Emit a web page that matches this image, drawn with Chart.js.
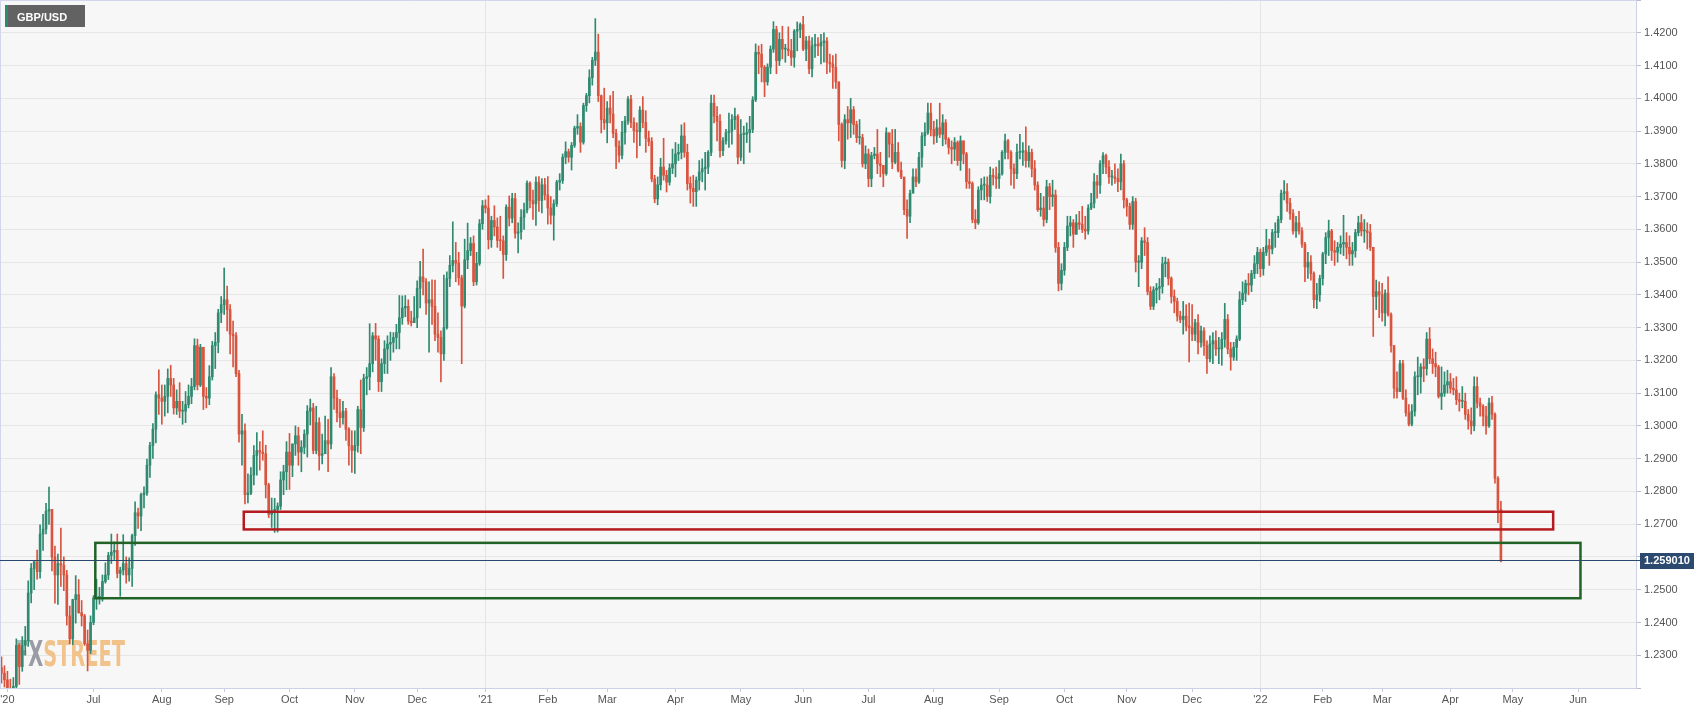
<!DOCTYPE html>
<html>
<head>
<meta charset="utf-8">
<title>GBP/USD</title>
<script src="https://cdn.jsdelivr.net/npm/chart.js@4.4.1/dist/chart.umd.min.js"></script>
<style>
  html, body { margin: 0; padding: 0; background: #fff; }
  #wrap { width: 1707px; height: 712px; position: relative; }
</style>
</head>
<body>
<div id="wrap"><canvas id="chart"></canvas></div>
<script>
// GBP/USD daily candles, 19 May 2020 .. 26 Apr 2022 (one row per month)
const FIRST_OPEN = 1.2262;

const closes = [
  1.2245, 1.2225, 1.2197, 1.2175, 1.2205, 1.2330, 1.2265, 1.2330, 1.2345,
  1.2490, 1.2565, 1.2585, 1.2555, 1.2670, 1.2685, 1.2740, 1.2745, 1.2600, 1.2545, 1.2580, 1.2575, 1.2545, 1.2420, 1.2350, 1.2470, 1.2485, 1.2430, 1.2420, 1.2335, 1.2315, 1.2400,
  1.2475, 1.2475, 1.2480, 1.2525, 1.2545, 1.2605, 1.2615, 1.2620, 1.2550, 1.2560, 1.2580, 1.2545, 1.2565, 1.2665, 1.2735, 1.2725, 1.2790, 1.2795, 1.2880, 1.2940, 1.2990, 1.3095, 1.3085,
  1.3075, 1.3090, 1.3145, 1.3125, 1.3055, 1.3075, 1.3045, 1.3045, 1.3065, 1.3090, 1.3120, 1.3245, 1.3125, 1.3240, 1.3090, 1.3085, 1.3150, 1.3245, 1.3255, 1.3345, 1.3370,
  1.3385, 1.3355, 1.3280, 1.3275, 1.3160, 1.2975, 1.2985, 1.2790, 1.2795, 1.2850, 1.2910, 1.2925, 1.2920, 1.2915, 1.2820, 1.2730, 1.2740, 1.2745, 1.2755, 1.2835, 1.2860, 1.2920,
  1.2880, 1.2945, 1.2970, 1.2920, 1.2935, 1.2975, 1.3045, 1.3055, 1.2925, 1.3010, 1.2910, 1.2915, 1.2955, 1.2945, 1.3150, 1.3085, 1.3040, 1.3025, 1.3045, 1.2990, 1.2940, 1.2925,
  1.2940, 1.3050, 1.2995, 1.3145, 1.3150, 1.3190, 1.3275, 1.3265, 1.3135, 1.3190, 1.3235, 1.3250, 1.3255, 1.3270, 1.3285, 1.3330, 1.3360, 1.3365, 1.3320, 1.3315, 1.3330,
  1.3420, 1.3455, 1.3440, 1.3375, 1.3385, 1.3365, 1.3280, 1.3270, 1.3220, 1.3300, 1.3450, 1.3490, 1.3505, 1.3497, 1.3452, 1.3366, 1.3507, 1.3535, 1.3557, 1.3440, 1.3496, 1.3617, 1.3672,
  1.3665, 1.3568, 1.3627, 1.3607, 1.3566, 1.3565, 1.3523, 1.3668, 1.3634, 1.3694, 1.3588, 1.3592, 1.3637, 1.3659, 1.3741, 1.3688, 1.3678, 1.3744, 1.3688, 1.3736, 1.3705,
  1.3665, 1.3643, 1.3678, 1.3744, 1.3749, 1.3820, 1.3837, 1.3820, 1.3856, 1.3909, 1.3914, 1.3866, 1.3978, 1.4008, 1.4063, 1.4116, 1.4141, 1.4008, 1.3935, 1.3925,
  1.3970, 1.3952, 1.3893, 1.3853, 1.3826, 1.3896, 1.3931, 1.3997, 1.3926, 1.3901, 1.3898, 1.3964, 1.3926, 1.3878, 1.3868, 1.3754, 1.3693, 1.3736, 1.3790, 1.3765, 1.3744, 1.3787, 1.3800,
  1.3830, 1.3835, 1.3885, 1.3835, 1.3740, 1.3725, 1.3715, 1.3750, 1.3775, 1.3785, 1.3790, 1.3835, 1.3985, 1.3945, 1.3930, 1.3840, 1.3870, 1.3895, 1.3900, 1.3935, 1.3945, 1.3820,
  1.3890, 1.3890, 1.3895, 1.3905, 1.3995, 1.4140, 1.4135, 1.4095, 1.4050, 1.4095, 1.4150, 1.4210, 1.4115, 1.4180, 1.4150, 1.4150, 1.4145, 1.4125, 1.4205, 1.4210, 1.4225,
  1.4150, 1.4175, 1.4090, 1.4160, 1.4165, 1.4160, 1.4170, 1.4175, 1.4110, 1.4105, 1.4095, 1.4050, 1.3920, 1.3810, 1.3935, 1.3925, 1.3965, 1.3920, 1.3880, 1.3880, 1.3800, 1.3830,
  1.3755, 1.3825, 1.3830, 1.3800, 1.3795, 1.3770, 1.3895, 1.3860, 1.3805, 1.3835, 1.3780, 1.3760, 1.3660, 1.3640, 1.3710, 1.3760, 1.3745, 1.3820, 1.3885, 1.3895, 1.3955, 1.3905,
  1.3885, 1.3910, 1.3890, 1.3925, 1.3875, 1.3850, 1.3845, 1.3865, 1.3810, 1.3870, 1.3830, 1.3745, 1.3740, 1.3630, 1.3620, 1.3720, 1.3735, 1.3735, 1.3700, 1.3765, 1.3760, 1.3755,
  1.3770, 1.3835, 1.3870, 1.3835, 1.3785, 1.3770, 1.3835, 1.3835, 1.3840, 1.3810, 1.3835, 1.3785, 1.3735, 1.3660, 1.3665, 1.3630, 1.3730, 1.3700, 1.3705, 1.3545, 1.3435, 1.3475,
  1.3545, 1.3610, 1.3620, 1.3585, 1.3620, 1.3615, 1.3600, 1.3595, 1.3665, 1.3680, 1.3745, 1.3735, 1.3800, 1.3825, 1.3790, 1.3760, 1.3760, 1.3755, 1.3745, 1.3800, 1.3690,
  1.3670, 1.3615, 1.3685, 1.3500, 1.3500, 1.3565, 1.3560, 1.3410, 1.3365, 1.3415, 1.3420, 1.3425, 1.3495, 1.3500, 1.3450, 1.3395, 1.3380, 1.3335, 1.3325, 1.3335, 1.3305, 1.3300,
  1.3280, 1.3315, 1.3255, 1.3290, 1.3245, 1.3205, 1.3250, 1.3260, 1.3235, 1.3235, 1.3265, 1.3325, 1.3235, 1.3210, 1.3240, 1.3265, 1.3385, 1.3405, 1.3435, 1.3430, 1.3465, 1.3495, 1.3530,
  1.3480, 1.3530, 1.3550, 1.3540, 1.3590, 1.3590, 1.3630, 1.3710, 1.3715, 1.3680, 1.3648, 1.3595, 1.3620, 1.3595, 1.3555, 1.3485, 1.3500, 1.3465, 1.3385, 1.3400, 1.3450,
  1.3525, 1.3575, 1.3595, 1.3535, 1.3530, 1.3545, 1.3555, 1.3560, 1.3545, 1.3525, 1.3535, 1.3590, 1.3620, 1.3595, 1.3595, 1.3590, 1.3545, 1.3395, 1.3410, 1.3400,
  1.3345, 1.3405, 1.3340, 1.3245, 1.3115, 1.3105, 1.3190, 1.3085, 1.3040, 1.3005, 1.3045, 1.3150, 1.3150, 1.3180, 1.3175, 1.3265, 1.3205, 1.3190, 1.3180, 1.3090, 1.3100, 1.3125, 1.3135,
  1.3115, 1.3110, 1.3080, 1.3075, 1.3075, 1.3035, 1.3015, 1.3000, 1.3120, 1.3070, 1.3060, 1.3030, 1.3000, 1.3070, 1.3035, 1.2840, 1.2745, 1.25901
];

const highs = [
  1.2295, 1.2268, 1.2251, 1.2227, 1.2232, 1.2350, 1.2336, 1.2357, 1.2388,
  1.2527, 1.2580, 1.2588, 1.2621, 1.2698, 1.2730, 1.2764, 1.2813, 1.2745, 1.2633, 1.2609, 1.2688, 1.2600, 1.2559, 1.2450, 1.2471, 1.2543, 1.2531, 1.2467, 1.2425, 1.2377, 1.2420,
  1.2482, 1.2532, 1.2507, 1.2545, 1.2582, 1.2614, 1.2670, 1.2646, 1.2670, 1.2569, 1.2668, 1.2600, 1.2597, 1.2670, 1.2768, 1.2749, 1.2795, 1.2814, 1.2899, 1.2950, 1.3007, 1.3104, 1.3171,
  1.3125, 1.3125, 1.3174, 1.3185, 1.3145, 1.3110, 1.3132, 1.3075, 1.3105, 1.3125, 1.3145, 1.3266, 1.3265, 1.3249, 1.3240, 1.3117, 1.3184, 1.3258, 1.3285, 1.3356, 1.3395,
  1.3482, 1.3427, 1.3370, 1.3320, 1.3285, 1.3170, 1.3035, 1.3006, 1.2854, 1.2873, 1.2940, 1.2980, 1.2952, 1.2985, 1.2941, 1.2825, 1.2780, 1.2779, 1.2765, 1.2860, 1.2880, 1.2952,
  1.2977, 1.2945, 1.3000, 1.2996, 1.2955, 1.2988, 1.3062, 1.3082, 1.3069, 1.3060, 1.3025, 1.2975, 1.3030, 1.3020, 1.3178, 1.3160, 1.3109, 1.3081, 1.3075, 1.3054, 1.2995, 1.2985,
  1.2985, 1.3060, 1.3140, 1.3158, 1.3178, 1.3312, 1.3285, 1.3313, 1.3275, 1.3205, 1.3260, 1.3275, 1.3286, 1.3285, 1.3310, 1.3398, 1.3397, 1.3398, 1.3385, 1.3350, 1.3395,
  1.3443, 1.3502, 1.3540, 1.3450, 1.3440, 1.3446, 1.3445, 1.3345, 1.3290, 1.3460, 1.3470, 1.3520, 1.3623, 1.3560, 1.3530, 1.3460, 1.3570, 1.3619, 1.3575, 1.3580, 1.3530, 1.3630, 1.3688,
  1.3690, 1.3703, 1.3640, 1.3672, 1.3635, 1.3640, 1.3580, 1.3675, 1.3702, 1.3710, 1.3710, 1.3620, 1.3660, 1.3680, 1.3748, 1.3745, 1.3720, 1.3760, 1.3761, 1.3755, 1.3756,
  1.3761, 1.3700, 1.3690, 1.3750, 1.3770, 1.3830, 1.3867, 1.3845, 1.3865, 1.3915, 1.3950, 1.3925, 1.3985, 1.4015, 1.4087, 1.4125, 1.4243, 1.4196, 1.4010, 1.4031,
  1.3990, 1.4008, 1.4021, 1.3905, 1.3870, 1.3930, 1.3945, 1.4005, 1.4009, 1.3940, 1.3925, 1.3975, 1.4005, 1.3962, 1.3900, 1.3880, 1.3765, 1.3760, 1.3817, 1.3878, 1.3780, 1.3800, 1.3845,
  1.3865, 1.3860, 1.3919, 1.3925, 1.3860, 1.3760, 1.3765, 1.3760, 1.3810, 1.3815, 1.3835, 1.3840, 1.4010, 1.4010, 1.3975, 1.3950, 1.3880, 1.3905, 1.3955, 1.3950, 1.3970, 1.3950,
  1.3935, 1.3915, 1.3925, 1.3945, 1.4005, 1.4166, 1.4160, 1.4165, 1.4100, 1.4105, 1.4160, 1.4234, 1.4220, 1.4200, 1.4220, 1.4165, 1.4218, 1.4180, 1.4210, 1.4233, 1.4230,
  1.4250, 1.4188, 1.4190, 1.4185, 1.4195, 1.4185, 1.4195, 1.4200, 1.4185, 1.4135, 1.4130, 1.4135, 1.4050, 1.3925, 1.3950, 1.3975, 1.4000, 1.3975, 1.3930, 1.3935, 1.3890, 1.3855,
  1.3845, 1.3835, 1.3850, 1.3905, 1.3835, 1.3795, 1.3910, 1.3890, 1.3905, 1.3905, 1.3865, 1.3805, 1.3755, 1.3690, 1.3720, 1.3785, 1.3785, 1.3835, 1.3895, 1.3925, 1.3985, 1.3985,
  1.3930, 1.3935, 1.3985, 1.3950, 1.3935, 1.3880, 1.3870, 1.3880, 1.3870, 1.3885, 1.3870, 1.3835, 1.3785, 1.3745, 1.3660, 1.3730, 1.3755, 1.3760, 1.3760, 1.3790, 1.3785, 1.3790,
  1.3810, 1.3840, 1.3891, 1.3875, 1.3840, 1.3800, 1.3860, 1.3890, 1.3865, 1.3913, 1.3855, 1.3845, 1.3810, 1.3745, 1.3710, 1.3700, 1.3750, 1.3740, 1.3750, 1.3720, 1.3560, 1.3495,
  1.3560, 1.3640, 1.3640, 1.3630, 1.3645, 1.3655, 1.3670, 1.3640, 1.3675, 1.3710, 1.3770, 1.3765, 1.3810, 1.3834, 1.3830, 1.3810, 1.3780, 1.3800, 1.3785, 1.3830, 1.3810,
  1.3695, 1.3680, 1.3700, 1.3695, 1.3520, 1.3575, 1.3605, 1.3575, 1.3425, 1.3425, 1.3435, 1.3450, 1.3515, 1.3515, 1.3510, 1.3455, 1.3415, 1.3390, 1.3350, 1.3380, 1.3370, 1.3375,
  1.3370, 1.3325, 1.3340, 1.3305, 1.3300, 1.3260, 1.3275, 1.3285, 1.3290, 1.3270, 1.3285, 1.3374, 1.3340, 1.3255, 1.3255, 1.3275, 1.3410, 1.3440, 1.3445, 1.3465, 1.3475, 1.3520, 1.3545,
  1.3540, 1.3545, 1.3600, 1.3570, 1.3600, 1.3620, 1.3640, 1.3720, 1.3749, 1.3740, 1.3695, 1.3660, 1.3640, 1.3655, 1.3605, 1.3560, 1.3530, 1.3520, 1.3470, 1.3435, 1.3460,
  1.3530, 1.3590, 1.3628, 1.3600, 1.3565, 1.3560, 1.3580, 1.3643, 1.3590, 1.3580, 1.3560, 1.3600, 1.3640, 1.3645, 1.3630, 1.3620, 1.3615, 1.3545, 1.3445, 1.3440,
  1.3435, 1.3415, 1.3455, 1.3345, 1.3245, 1.3165, 1.3200, 1.3200, 1.3110, 1.3065, 1.3065, 1.3165, 1.3210, 1.3190, 1.3205, 1.3285, 1.3300, 1.3235, 1.3225, 1.3185, 1.3180, 1.3165, 1.3170,
  1.3160, 1.3145, 1.3150, 1.3100, 1.3120, 1.3100, 1.3050, 1.3055, 1.3150, 1.3149, 1.3085, 1.3065, 1.3060, 1.3085, 1.3090, 1.3040, 1.2845, 1.2770
];

const lows = [
  1.2215, 1.2203, 1.2183, 1.2162, 1.2168, 1.2197, 1.2211, 1.2251, 1.2300,
  1.2327, 1.2460, 1.2500, 1.2532, 1.2535, 1.2620, 1.2670, 1.2699, 1.2557, 1.2459, 1.2455, 1.2510, 1.2497, 1.2392, 1.2335, 1.2332, 1.2398, 1.2428, 1.2389, 1.2330, 1.2252, 1.2305,
  1.2393, 1.2440, 1.2456, 1.2465, 1.2520, 1.2531, 1.2580, 1.2592, 1.2536, 1.2480, 1.2545, 1.2520, 1.2526, 1.2510, 1.2635, 1.2687, 1.2680, 1.2750, 1.2788, 1.2843, 1.2901, 1.2948, 1.3035,
  1.3005, 1.3030, 1.3040, 1.3090, 1.3036, 1.3035, 1.3025, 1.3005, 1.3010, 1.3055, 1.3068, 1.3110, 1.3110, 1.3120, 1.3050, 1.3055, 1.3065, 1.3140, 1.3175, 1.3223, 1.3315,
  1.3340, 1.3290, 1.3220, 1.3180, 1.3150, 1.2950, 1.2880, 1.2762, 1.2765, 1.2790, 1.2820, 1.2850, 1.2865, 1.2895, 1.2780, 1.2720, 1.2690, 1.2675, 1.2676, 1.2745, 1.2790, 1.2805,
  1.2806, 1.2845, 1.2910, 1.2880, 1.2860, 1.2915, 1.2905, 1.3003, 1.2915, 1.2915, 1.2865, 1.2884, 1.2915, 1.2860, 1.2930, 1.3050, 1.3012, 1.2995, 1.3005, 1.2956, 1.2880, 1.2858,
  1.2855, 1.2920, 1.2915, 1.2983, 1.3095, 1.3110, 1.3165, 1.3200, 1.3105, 1.3105, 1.3160, 1.3160, 1.3200, 1.3225, 1.3235, 1.3235, 1.3310, 1.3333, 1.3310, 1.3305, 1.3315,
  1.3300, 1.3360, 1.3400, 1.3340, 1.3225, 1.3310, 1.3260, 1.3225, 1.3134, 1.3200, 1.3295, 1.3425, 1.3470, 1.3440, 1.3430, 1.3190, 1.3360, 1.3480, 1.3520, 1.3428, 1.3430, 1.3490, 1.3600,
  1.3650, 1.3540, 1.3545, 1.3580, 1.3545, 1.3535, 1.3450, 1.3505, 1.3610, 1.3620, 1.3573, 1.3528, 1.3570, 1.3600, 1.3650, 1.3665, 1.3630, 1.3612, 1.3655, 1.3650, 1.3690,
  1.3616, 1.3616, 1.3567, 1.3670, 1.3720, 1.3740, 1.3800, 1.3805, 1.3781, 1.3850, 1.3890, 1.3835, 1.3860, 1.3960, 1.3986, 1.4040, 1.4100, 1.3990, 1.3894, 1.3905,
  1.3864, 1.3925, 1.3880, 1.3785, 1.3805, 1.3815, 1.3860, 1.3920, 1.3910, 1.3865, 1.3818, 1.3855, 1.3910, 1.3835, 1.3855, 1.3745, 1.3681, 1.3675, 1.3720, 1.3750, 1.3714, 1.3735, 1.3770,
  1.3760, 1.3810, 1.3815, 1.3820, 1.3720, 1.3680, 1.3670, 1.3670, 1.3720, 1.3745, 1.3720, 1.3770, 1.3825, 1.3925, 1.3870, 1.3820, 1.3825, 1.3860, 1.3850, 1.3860, 1.3905, 1.3800,
  1.3810, 1.3800, 1.3865, 1.3835, 1.3895, 1.3990, 1.4075, 1.4050, 1.4005, 1.4040, 1.4075, 1.4140, 1.4075, 1.4100, 1.4120, 1.4110, 1.4130, 1.4100, 1.4095, 1.4145, 1.4185,
  1.4145, 1.4115, 1.4075, 1.4065, 1.4125, 1.4130, 1.4105, 1.4110, 1.4075, 1.4080, 1.4030, 1.4030, 1.3870, 1.3790, 1.3785, 1.3875, 1.3880, 1.3890, 1.3865, 1.3860, 1.3790, 1.3785,
  1.3730, 1.3730, 1.3815, 1.3770, 1.3760, 1.3730, 1.3765, 1.3820, 1.3785, 1.3800, 1.3775, 1.3755, 1.3645, 1.3572, 1.3620, 1.3715, 1.3730, 1.3740, 1.3790, 1.3855, 1.3890, 1.3885,
  1.3860, 1.3865, 1.3880, 1.3855, 1.3860, 1.3830, 1.3800, 1.3810, 1.3795, 1.3780, 1.3800, 1.3725, 1.3725, 1.3620, 1.3602, 1.3615, 1.3690, 1.3690, 1.3685, 1.3680, 1.3735, 1.3725,
  1.3725, 1.3765, 1.3815, 1.3815, 1.3735, 1.3725, 1.3755, 1.3815, 1.3795, 1.3790, 1.3790, 1.3760, 1.3720, 1.3655, 1.3640, 1.3610, 1.3620, 1.3660, 1.3670, 1.3530, 1.3412, 1.3415,
  1.3460, 1.3535, 1.3580, 1.3545, 1.3585, 1.3600, 1.3590, 1.3570, 1.3585, 1.3660, 1.3665, 1.3695, 1.3710, 1.3770, 1.3770, 1.3740, 1.3735, 1.3740, 1.3715, 1.3720, 1.3665,
  1.3640, 1.3600, 1.3600, 1.3470, 1.3425, 1.3480, 1.3520, 1.3400, 1.3355, 1.3355, 1.3375, 1.3385, 1.3405, 1.3455, 1.3430, 1.3375, 1.3345, 1.3320, 1.3315, 1.3280, 1.3290, 1.3195,
  1.3260, 1.3260, 1.3220, 1.3240, 1.3215, 1.3160, 1.3195, 1.3190, 1.3215, 1.3190, 1.3185, 1.3240, 1.3220, 1.3170, 1.3200, 1.3200, 1.3260, 1.3370, 1.3380, 1.3400, 1.3410, 1.3450, 1.3465,
  1.3455, 1.3460, 1.3520, 1.3490, 1.3525, 1.3545, 1.3575, 1.3620, 1.3690, 1.3655, 1.3630, 1.3585, 1.3575, 1.3585, 1.3545, 1.3440, 1.3450, 1.3445, 1.3360, 1.3358, 1.3380,
  1.3430, 1.3495, 1.3520, 1.3505, 1.3490, 1.3500, 1.3525, 1.3520, 1.3510, 1.3490, 1.3490, 1.3515, 1.3580, 1.3580, 1.3560, 1.3540, 1.3535, 1.3273, 1.3355, 1.3330,
  1.3320, 1.3305, 1.3335, 1.3225, 1.3085, 1.3085, 1.3105, 1.3080, 1.3030, 1.3000, 1.3000, 1.3030, 1.3095, 1.3100, 1.3135, 1.3155, 1.3190, 1.3160, 1.3150, 1.3085, 1.3050, 1.3090, 1.3100,
  1.3100, 1.3095, 1.3065, 1.3045, 1.3055, 1.3020, 1.2990, 1.2975, 1.2985, 1.3055, 1.3030, 1.3000, 1.2975, 1.2995, 1.3020, 1.2825, 1.2705, 1.2585
];

// drawn boxes: [first slot, last slot, lower price, upper price]
const redZone = [81.6, 522.6, 1.2684, 1.2738];
const greenZone = [31.6, 531.8, 1.2474, 1.2643];
const lastPrice = 1.25901;

const MONTHS = ['Jan', 'Feb', 'Mar', 'Apr', 'May', 'Jun', 'Jul', 'Aug', 'Sep', 'Oct', 'Nov', 'Dec'];
const FIRST_MONTH_TICK = '2020-07';
const EXTRA_TICKS = { 2: "'20" };
const EMPTY_SLOTS = 45; // blank days to the right of the last candle

// trading days (weekdays) as categories
const days = [];
for (let t = Date.UTC(2020, 4, 19); days.length < closes.length + EMPTY_SLOTS; t += 86400000) {
  const d = new Date(t);
  if (d.getUTCDay() !== 0 && d.getUTCDay() !== 6) days.push(d);
}
const labels = days.map(d => d.toISOString().slice(0, 10));

const tickText = labels.map((l, i) => {
  if (EXTRA_TICKS[i]) return EXTRA_TICKS[i];
  if (i === 0 || l.slice(0, 7) === labels[i - 1].slice(0, 7) || l.slice(0, 7) < FIRST_MONTH_TICK) return '';
  const m = days[i].getUTCMonth();
  return m === 0 ? "'" + l.slice(2, 4) : MONTHS[m];
});
const yearStart = new Set(labels.map((l, i) => (i > 0 && l.slice(0, 4) !== labels[i - 1].slice(0, 4)) ? i : -1));

const opens = closes.map((c, i) => i === 0 ? FIRST_OPEN : closes[i - 1]);

const UP = '#2f8a70';
const DOWN = '#d9543f';
const candleColor = ctx => closes[ctx.dataIndex] >= opens[ctx.dataIndex] ? UP : DOWN;
const FONT = "'Liberation Sans', Arial, sans-serif";

const decorations = {
  id: 'decorations',
  beforeDraw(chart) {
    const { ctx, chartArea: a } = chart;
    ctx.save();
    ctx.fillStyle = '#ffffff';
    ctx.fillRect(0, 0, chart.width, chart.height);
    ctx.fillStyle = '#f7f7f7';
    ctx.fillRect(a.left, a.top, a.right - a.left, a.bottom - a.top);
    ctx.restore();
  },
  beforeDatasetsDraw(chart) {
    const { ctx } = chart;
    // FXStreet watermark
    ctx.save();
    ctx.font = "bold 36px 'DejaVu Sans Condensed', 'DejaVu Sans', sans-serif";
    ctx.textBaseline = 'alphabetic';
    const sx = 110 / ctx.measureText('FXSTREET').width;
    ctx.translate(15, 666);
    ctx.scale(sx, 1);
    let x = 0;
    for (const [t, c] of [['F', '#b9b9c0'], ['X', '#9b9ba5'], ['STREET', '#f1c38b']]) {
      ctx.fillStyle = c;
      ctx.fillText(t, x, 0);
      x += ctx.measureText(t).width;
    }
    ctx.restore();
  },
  afterDatasetsDraw(chart) {
    const { ctx, chartArea: a, scales: { x, y } } = chart;
    ctx.save();
    ctx.beginPath();
    ctx.rect(a.left, a.top, a.right - a.left, a.bottom - a.top);
    ctx.clip();
    const box = (z, color) => {
      const x0 = x.getPixelForValue(z[0]), x1 = x.getPixelForValue(z[1]);
      const y0 = y.getPixelForValue(z[3]), y1 = y.getPixelForValue(z[2]);
      ctx.strokeStyle = color;
      ctx.lineWidth = 2.5;
      ctx.strokeRect(x0, y0, x1 - x0, y1 - y0);
    };
    box(redZone, '#b51a1f');
    box(greenZone, '#216326');
    ctx.restore();
  },
  afterDraw(chart) {
    const { ctx, chartArea: a, scales: { y } } = chart;
    ctx.save();
    // plot frame (top / left)
    ctx.strokeStyle = '#d3d6ea';
    ctx.lineWidth = 1;
    ctx.beginPath();
    ctx.moveTo(0.5, a.bottom);
    ctx.lineTo(0.5, 0.5);
    ctx.lineTo(a.right, 0.5);
    ctx.stroke();
    // last price line and tag
    const py = Math.round(y.getPixelForValue(lastPrice));
    ctx.strokeStyle = '#2b4870';
    ctx.beginPath();
    ctx.moveTo(a.left, py + 0.5);
    ctx.lineTo(a.right + 4, py + 0.5);
    ctx.stroke();
    ctx.fillStyle = '#2c4a70';
    ctx.fillRect(a.right + 4, py - 7, 54, 16);
    ctx.fillStyle = '#ffffff';
    ctx.font = 'bold 11px ' + FONT;
    ctx.textBaseline = 'middle';
    ctx.fillText(lastPrice.toFixed(6), a.right + 8, py + 1);
    // symbol tag
    ctx.fillStyle = '#626262';
    ctx.fillRect(5, 5, 80, 22);
    ctx.fillStyle = '#2e8a6f';
    ctx.fillRect(5, 5, 3, 22);
    ctx.fillStyle = '#ffffff';
    ctx.textBaseline = 'alphabetic';
    ctx.fillText('GBP/USD', 17, 20.5);
    ctx.restore();
  }
};

new Chart(document.getElementById('chart'), {
  type: 'bar',
  data: {
    labels,
    datasets: [
      {
        label: 'body',
        data: closes.map((c, i) => [opens[i], c]),
        backgroundColor: candleColor,
        barThickness: 2,
        minBarLength: 1,
        grouped: false,
        order: 1
      },
      {
        label: 'wick',
        data: highs.map((h, i) => [lows[i], h]),
        backgroundColor: candleColor,
        barThickness: 1,
        grouped: false,
        order: 2
      }
    ]
  },
  options: {
    responsive: true,
    maintainAspectRatio: false,
    animation: false,
    events: [],
    layout: { padding: 0, autoPadding: false },
    plugins: { legend: { display: false }, tooltip: { enabled: false } },
    scales: {
      x: {
        type: 'category',
        offset: true,
        afterFit: s => { s.height = 24; s.paddingLeft = 0; s.paddingRight = 0; },
        border: { color: '#cdd1e6' },
        grid: {
          offset: false,
          color: c => yearStart.has(c.index) ? '#e4e4e4' : 'rgba(0,0,0,0)',
          tickColor: c => tickText[c.index] ? '#c6cade' : 'rgba(0,0,0,0)',
          tickLength: 4
        },
        ticks: {
          autoSkip: false,
          maxRotation: 0,
          minRotation: 0,
          padding: 1,
          color: '#555',
          font: { size: 11, family: FONT },
          callback: (v, i) => tickText[i]
        }
      },
      y: {
        position: 'right',
        min: 1.22,
        max: 1.43,
        afterFit: s => { s.width = 71; s.paddingTop = 0; s.paddingBottom = 0; },
        border: { color: '#cdd1e6' },
        grid: { color: '#e6e6e6', tickColor: '#b9bccb', tickLength: 5 },
        ticks: {
          stepSize: 0.01,
          padding: 3,
          color: '#555',
          font: { size: 11, family: FONT },
          callback: v => {
            const r = Math.round(v * 100) / 100;
            if (r <= 1.22 || r >= 1.43 || r === 1.26) return '';
            return r.toFixed(4);
          }
        }
      }
    }
  },
  plugins: [decorations]
});
</script>
</body>
</html>
